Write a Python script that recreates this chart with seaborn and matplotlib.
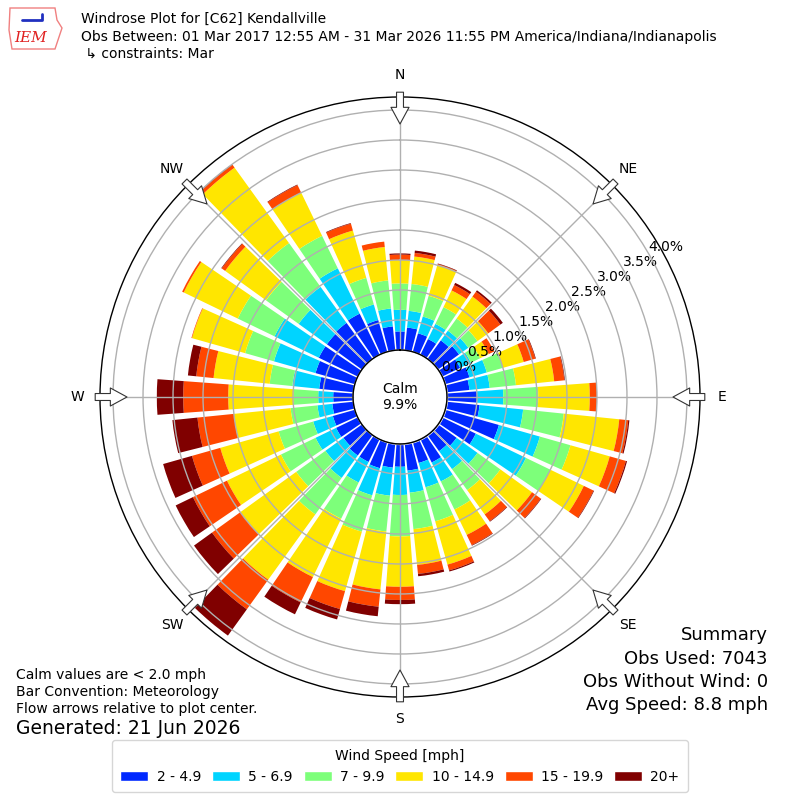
import numpy as np
import matplotlib
matplotlib.use("Agg")
import matplotlib.pyplot as plt
import seaborn as sns
from matplotlib.patches import Patch, Polygon

# direction bins (degrees, wind from), N then clockwise
directions = list(range(0, 360, 10))
speed_labels = ["2 - 4.9", "5 - 6.9", "7 - 9.9", "10 - 14.9", "15 - 19.9", "20+"]
speed_colors = ["#0028ff", "#00d4ff", "#7dff7a", "#ffe600", "#ff4700", "#800000"]

# frequency in percent of all obs, one list per speed bin
spd_2_5 = [0.31, 0.38, 0.32, 0.29, 0.38, 0.43, 0.33, 0.42, 0.38, 0.50, 0.55, 0.93,
           0.62, 0.38, 0.33, 0.43, 0.36, 0.45, 0.38, 0.40, 0.45, 0.42, 0.42, 0.38,
           0.40, 0.38, 0.35, 0.33, 0.57, 0.68, 0.72, 0.72, 0.74, 0.76, 0.55, 0.40]
spd_5_7 = [0.36, 0.28, 0.29, 0.28, 0.20, 0.19, 0.20, 0.30, 0.34, 0.44, 0.73, 0.71,
           0.93, 0.43, 0.37, 0.35, 0.42, 0.37, 0.47, 0.47, 0.47, 0.38, 0.46, 0.37,
           0.38, 0.34, 0.25, 0.25, 0.45, 0.72, 0.82, 0.58, 0.74, 0.84, 0.27, 0.30]
spd_7_10 = [0.44, 0.45, 0.36, 0.31, 0.25, 0.19, 0.17, 0.28, 0.44, 0.58, 0.68, 0.53,
            0.45, 0.47, 0.43, 0.52, 0.59, 0.61, 0.69, 0.60, 0.63, 0.67, 0.75, 0.60,
            0.64, 0.60, 0.45, 0.41, 0.38, 0.50, 0.68, 0.67, 0.90, 0.60, 0.46, 0.47]
spd_10_15 = [0.39, 0.46, 0.54, 0.31, 0.45, 0.22, 0.16, 0.36, 0.64, 0.86, 0.93, 0.68,
             0.62, 0.65, 0.50, 0.47, 0.75, 0.60, 0.84, 0.97, 1.03, 1.08, 1.34, 1.15,
             1.00, 1.01, 0.95, 1.09, 0.94, 0.92, 1.00, 0.84, 1.55, 0.80, 0.82, 0.56]
spd_15_20 = [0.09, 0.06, 0.01, 0.10, 0.10, 0.25, 0.10, 0.20, 0.17, 0.12, 0.15, 0.28,
             0.18, 0.18, 0.14, 0.19, 0.10, 0.15, 0.22, 0.29, 0.31, 0.47, 0.61, 0.58,
             0.63, 0.49, 0.61, 0.75, 0.29, 0.01, 0.03, 0.07, 0.06, 0.14, 0.12, 0.09]
spd_20_up = [0.02, 0.04, 0.01, 0.04, 0.03, 0.05, 0.00, 0.01, 0.01, 0.00, 0.02, 0.02,
             0.01, 0.01, 0.01, 0.01, 0.02, 0.04, 0.07, 0.16, 0.18, 0.22, 0.54, 0.37,
             0.32, 0.50, 0.42, 0.44, 0.14, 0.00, 0.00, 0.01, 0.01, 0.01, 0.01, 0.00]
speed_bins = [spd_2_5, spd_5_7, spd_7_10, spd_10_15, spd_15_20, spd_20_up]

calm_pct = 9.9
ring_pct = [0.0, 0.5, 1.0, 1.5, 2.0, 2.5, 3.0, 3.5, 4.0]
compass = ["N", "NE", "E", "SE", "S", "SW", "W", "NW"]

sns.set_style("white")
plt.rcParams["font.family"] = ["DejaVu Sans"]
plt.rcParams["text.color"] = "black"
plt.rcParams["xtick.color"] = "black"
plt.rcParams["ytick.color"] = "black"

fig = plt.figure(figsize=(8, 8), dpi=100)
ax = fig.add_axes([0.125, 0.12875, 0.75, 0.75], projection="polar")
ax.set_theta_zero_location("N")
ax.set_theta_direction(-1)

calm_r = 0.783  # radius of the calm hole, in percent units
rmax = 5.0
theta = np.deg2rad(directions)
base = np.full(len(directions), calm_r)
for vals, color, label in zip(speed_bins, speed_colors, speed_labels):
    ax.bar(theta, vals, width=np.deg2rad(8.4), bottom=base, color=color,
           edgecolor="none", label=label, zorder=1)
    base = base + np.array(vals)

ax.set_ylim(0, rmax)
ax.set_yticks([calm_r + v for v in ring_pct])
ax.set_yticklabels([f"{v:.1f}%" for v in ring_pct], fontsize=10)
ax.set_rlabel_position(60)
ax.set_xticks(np.deg2rad(np.arange(0, 360, 45)))
ax.set_xticklabels([])
ax.yaxis.grid(True, color="#b0b0b0", lw=1)
ax.xaxis.grid(False)
ax.set_axisbelow(False)
ax.spines["polar"].set_color("black")
ax.spines["polar"].set_linewidth(1)

# spokes only outside the calm hole
for t in np.deg2rad(np.arange(0, 360, 45)):
    ax.plot([t, t], [calm_r, rmax], color="#b0b0b0", lw=1, zorder=2.6)

# calm circle
circ = np.linspace(0, 2 * np.pi, 300)
ax.fill_between(circ, 0, calm_r, color="white", zorder=2)
ax.plot(circ, np.full_like(circ, calm_r), color="black", lw=1, zorder=2.7)
ax.text(0, 0, f"Calm\n{calm_pct:.1f}%", ha="center", va="center", fontsize=10, zorder=6)

# compass labels and flow arrows
for i, name in enumerate(compass):
    t = np.deg2rad(i * 45)
    ax.text(t, 5.37, name, ha="center", va="center", fontsize=10, clip_on=False)
    ax.annotate("", xy=(t, 4.55), xytext=(t, 5.08), annotation_clip=False,
                arrowprops=dict(arrowstyle="simple,head_length=1.2,head_width=1.3,tail_width=0.5",
                                mutation_scale=10, fc="white", ec="#333333", lw=0.8,
                                shrinkA=0, shrinkB=0),
                zorder=7)

# header
fig.text(81 / 800, 1 - 19 / 800, "Windrose Plot for [C62] Kendallville", va="center", fontsize=10)
fig.text(81 / 800, 1 - 37 / 800,
         "Obs Between: 01 Mar 2017 12:55 AM - 31 Mar 2026 11:55 PM America/Indiana/Indianapolis",
         va="center", fontsize=10)
fig.text(81 / 800, 1 - 54 / 800, " \u21b3 constraints: Mar", va="center", fontsize=10)

# rough IEM logo
logo = Polygon([[10 / 800, 1 - 8 / 800], [55 / 800, 1 - 8 / 800], [57 / 800, 1 - 20 / 800],
                [62 / 800, 1 - 28 / 800], [58 / 800, 1 - 40 / 800], [55 / 800, 1 - 49 / 800],
                [12 / 800, 1 - 49 / 800], [9 / 800, 1 - 30 / 800]],
               closed=True, fill=False, ec="#f08080", lw=1, transform=fig.transFigure)
fig.patches.append(logo)
fig.text(31 / 800, 1 - 38 / 800, "IEM", ha="center", va="center", color="#e02020",
         fontsize=11, family="DejaVu Serif", style="italic")
fig.lines.append(plt.Line2D([22 / 800, 42 / 800, 42 / 800], [1 - 20 / 800, 1 - 20 / 800, 1 - 14 / 800],
                            color="#2030c0", lw=2, transform=fig.transFigure))

# notes
fig.text(16 / 800, 1 - 675 / 800, "Calm values are < 2.0 mph", va="center", fontsize=10)
fig.text(16 / 800, 1 - 692 / 800, "Bar Convention: Meteorology", va="center", fontsize=10)
fig.text(16 / 800, 1 - 709 / 800, "Flow arrows relative to plot center.", va="center", fontsize=10)
fig.text(16 / 800, 1 - 729 / 800, "Generated: 21 Jun 2026", va="center", fontsize=13.5)

fig.text(768 / 800, 1 - 635 / 800, "Summary", ha="right", va="center", fontsize=13)
fig.text(768 / 800, 1 - 659 / 800, "Obs Used: 7043", ha="right", va="center", fontsize=13)
fig.text(768 / 800, 1 - 682 / 800, "Obs Without Wind: 0", ha="right", va="center", fontsize=13)
fig.text(768 / 800, 1 - 705 / 800, "Avg Speed: 8.8 mph", ha="right", va="center", fontsize=13)

handles = [Patch(facecolor=c, label=l) for c, l in zip(speed_colors, speed_labels)]
fig.legend(handles=handles, loc="lower center", bbox_to_anchor=(0.5, 0.01), borderaxespad=0,
           ncol=6, title="Wind Speed [mph]", fontsize=10, title_fontsize=10, frameon=True,
           edgecolor="#cccccc", handlelength=2.0, handleheight=0.8, handletextpad=0.6,
           columnspacing=0.8, borderpad=0.6)

fig.savefig("out.png", dpi=100)
